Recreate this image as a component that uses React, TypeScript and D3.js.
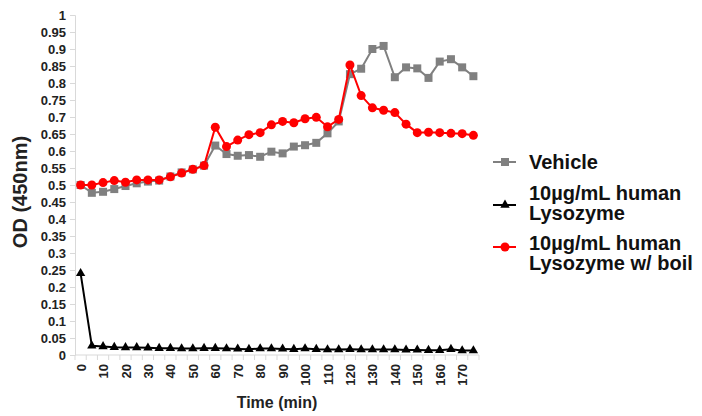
import React, { useEffect, useRef } from "react";
import * as d3 from "d3";

// time points (min)
const times = d3.range(0, 180, 5);

const vehicle = [
  0.5, 0.477, 0.48, 0.488, 0.497, 0.505, 0.51, 0.513, 0.525, 0.537, 0.546, 0.557,
  0.616, 0.591, 0.586, 0.588, 0.583, 0.598, 0.593, 0.613, 0.617, 0.624, 0.652, 0.687,
  0.826, 0.842, 0.9, 0.909, 0.817, 0.846, 0.843, 0.815, 0.863, 0.87, 0.846, 0.82,
];

const lysozyme = [
  0.24, 0.027, 0.025, 0.023, 0.022, 0.022, 0.021, 0.02, 0.02, 0.019, 0.019, 0.02,
  0.02, 0.019, 0.018, 0.017, 0.019, 0.019, 0.018, 0.017, 0.019, 0.017, 0.016, 0.016,
  0.017, 0.016, 0.016, 0.016, 0.016, 0.015, 0.015, 0.014, 0.014, 0.017, 0.013, 0.013,
];

const boiled = [
  0.5, 0.5, 0.507, 0.513, 0.508, 0.515, 0.515, 0.515, 0.524, 0.535, 0.546, 0.557,
  0.67, 0.613, 0.632, 0.648, 0.654, 0.677, 0.687, 0.683, 0.695, 0.699, 0.671, 0.693,
  0.853, 0.763, 0.727, 0.72, 0.713, 0.679, 0.654, 0.655, 0.654, 0.652, 0.651, 0.646,
];

const yTicks = d3.range(0, 1.0001, 0.05);

const seriesList = [
  { name: ["Vehicle"], values: vehicle, color: "#808080", shape: "square" },
  { name: ["10µg/mL human", "Lysozyme"], values: lysozyme, color: "#000000", shape: "triangle" },
  { name: ["10µg/mL human", "Lysozyme w/ boil"], values: boiled, color: "#ff0000", shape: "circle" },
];

const FONT = "'Liberation Sans', Arial, sans-serif";

function drawMarker(sel: any, shape: string, color: string) {
  if (shape === "square") {
    sel.append("rect").attr("x", -4).attr("y", -4).attr("width", 8).attr("height", 8).attr("fill", color);
  } else if (shape === "circle") {
    sel.append("circle").attr("r", 4.5).attr("fill", color);
  } else {
    sel.append("path").attr("d", d3.symbol(d3.symbolTriangle, 38)()).attr("fill", color);
  }
}

export default function App() {
  const svgRef = useRef<SVGSVGElement>(null);

  useEffect(() => {
    const width = 702;
    const height = 416;
    const margin = { top: 15, left: 75, right: 223, bottom: 61 };
    const innerW = width - margin.left - margin.right;
    const innerH = height - margin.top - margin.bottom;

    const svg = d3.select(svgRef.current);
    svg.selectAll("*").remove();
    svg.attr("width", width).attr("height", height);

    svg.append("rect").attr("width", width).attr("height", height).attr("fill", "#fff");

    const g = svg.append("g").attr("transform", `translate(${margin.left},${margin.top})`);

    const x = d3.scaleBand<number>().domain(times).range([0, innerW]);
    const y = d3.scaleLinear().domain([0, 1]).range([innerH, 0]);
    const cx = (t: number) => (x(t) as number) + x.bandwidth() / 2;

    // y axis
    const yAxis = g.append("g").call(
      d3.axisLeft(y).tickValues(yTicks).tickSize(5).tickFormat((d: any) => d3.format("~g")(+d.toFixed(2)))
    );
    yAxis.select(".domain").attr("stroke", "#d9d9d9");
    yAxis.selectAll(".tick line").attr("stroke", "#d9d9d9");
    yAxis.selectAll(".tick text")
      .attr("x", -9)
      .attr("font-family", FONT)
      .attr("font-weight", "bold")
      .attr("font-size", 13)
      .attr("fill", "#222");

    // x axis (category axis, ticks between categories)
    const xAxisG = g.append("g").attr("transform", `translate(0,${innerH})`);
    xAxisG.append("line").attr("x1", 0).attr("x2", innerW).attr("stroke", "#d9d9d9");
    times.concat([180]).forEach((t, i) => {
      const px = i * x.step();
      xAxisG.append("line").attr("x1", px).attr("x2", px).attr("y1", 0).attr("y2", 5).attr("stroke", "#d9d9d9");
    });
    times.forEach((t) => {
      if (t % 10 !== 0) return;
      xAxisG.append("text")
        .attr("transform", `translate(${cx(t) + 5},9) rotate(-90)`)
        .attr("text-anchor", "end")
        .attr("font-family", FONT)
        .attr("font-weight", "bold")
        .attr("font-size", 13)
        .attr("fill", "#222")
        .text(String(t));
    });

    // series
    seriesList.forEach((s) => {
      const line = d3.line<number>().x((_, i) => cx(times[i])).y((d) => y(d));
      g.append("path")
        .datum(s.values)
        .attr("fill", "none")
        .attr("stroke", s.color)
        .attr("stroke-width", 2)
        .attr("d", line);
      s.values.forEach((v, i) => {
        const m = g.append("g").attr("transform", `translate(${cx(times[i])},${y(v)})`);
        drawMarker(m, s.shape, s.color);
      });
    });

    // axis titles
    svg.append("text")
      .attr("transform", `translate(27,192) rotate(-90)`)
      .attr("text-anchor", "middle")
      .attr("font-family", FONT)
      .attr("font-weight", "bold")
      .attr("font-size", 20)
      .attr("fill", "#222")
      .text("OD (450nm)");

    svg.append("text")
      .attr("x", margin.left + innerW / 2)
      .attr("y", 408)
      .attr("text-anchor", "middle")
      .attr("font-family", FONT)
      .attr("font-weight", "bold")
      .attr("font-size", 16)
      .attr("fill", "#222")
      .text("Time (min)");

    // legend
    const markerY = [162, 205, 247];
    const textY = [162, 203, 253];
    seriesList.forEach((s, i) => {
      const lg = svg.append("g");
      lg.append("line")
        .attr("x1", 493).attr("x2", 516)
        .attr("y1", markerY[i]).attr("y2", markerY[i])
        .attr("stroke", s.color).attr("stroke-width", 2);
      const m = lg.append("g").attr("transform", `translate(505,${markerY[i]})`);
      drawMarker(m, s.shape, s.color);
      const txt = lg.append("text")
        .attr("font-family", FONT)
        .attr("font-weight", "bold")
        .attr("font-size", 20)
        .attr("fill", "#111");
      const n = s.name.length;
      s.name.forEach((line, j) => {
        txt.append("tspan")
          .attr("x", 529)
          .attr("y", textY[i] + (j - (n - 1) / 2) * 20)
          .attr("dy", "0.36em")
          .text(line);
      });
    });
  }, []);

  return <svg ref={svgRef} style={{ display: "block", position: "absolute", left: 0, top: 0 }} />;
}
